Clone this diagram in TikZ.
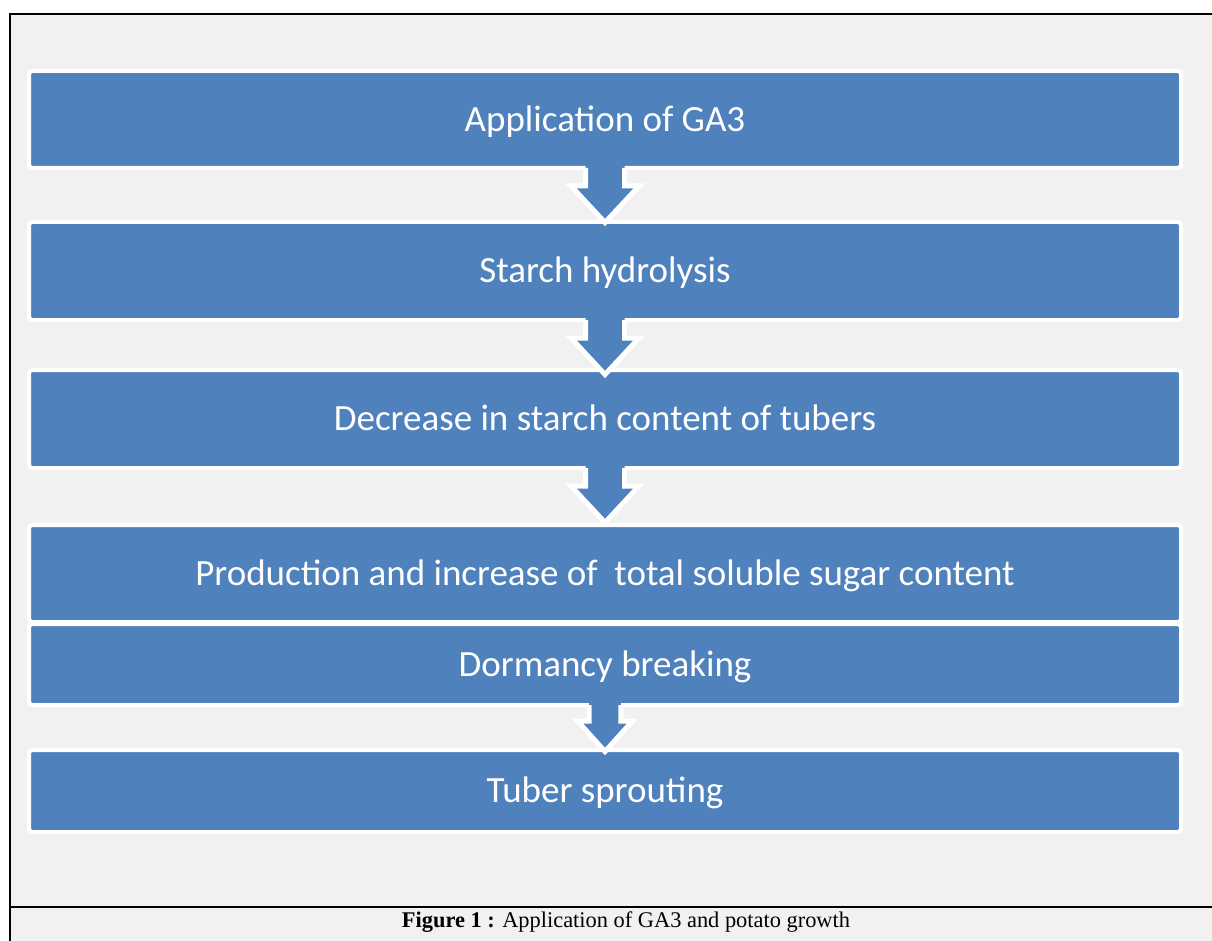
\documentclass[tikz,border=0pt]{standalone}
\usepackage{fontspec}
\setmainfont{Liberation Serif}
\newfontfamily\carlito{Carlito}
\definecolor{boxblue}{HTML}{4F81BD}
\definecolor{pagegray}{HTML}{F1F1F1}
\tikzset{
  flowbox/.style={rectangle, rounded corners=2.5pt, fill=boxblue, draw=white, line width=3pt,
    minimum width=864pt, inner sep=0pt, text=white, font=\carlito\fontsize{27.75pt}{30pt}\selectfont,
    text height=17.9pt, text depth=0pt},
  framerule/.style={line width=1.5pt, black},
  arrowfill/.style={fill=boxblue},
  arrowedge/.style={draw=white, line width=3.75pt, line join=miter},
  bigdown/.pic={
    \fill[arrowfill] (-19.5,-6) -- (-19.5,16) -- (-34,16) -- (0,52.5) -- (34,16) -- (19.5,16) -- (19.5,-6) -- cycle;
    \draw[arrowedge] (-19.5,-2) -- (-19.5,16) -- (-34,16) -- (0,52.5) -- (34,16) -- (19.5,16) -- (19.5,-2);
  },
  smalldown/.pic={
    \fill[arrowfill] (-15.8,-6) -- (-15.8,14.2) -- (-27.3,14.2) -- (0,44.5) -- (27.3,14.2) -- (15.8,14.2) -- (15.8,-6) -- cycle;
    \draw[arrowedge] (-15.8,-2) -- (-15.8,14.2) -- (-27.3,14.2) -- (0,44.5) -- (27.3,14.2) -- (15.8,14.2) -- (15.8,-2);
  }
}
\begin{document}
\begin{tikzpicture}[x=0.75pt, y=-0.75pt]
\useasboundingbox (0,0) rectangle (1212,941);
\fill[white] (0,0) rectangle (1212,941);
\fill[pagegray] (10,13.8) rectangle (1212,941);
\draw[framerule] (1212,13.8) -- (10,13.8) -- (10,941);
\draw[framerule] (10,906.7) -- (1212,906.7);

\node[flowbox, minimum height=72.75pt] (b1) at (605,119.5) {Application of GA3};
\node[flowbox, minimum height=73.5pt]  (b2) at (605,271)   {Starch hydrolysis};
\node[flowbox, minimum height=73.5pt]  (b3) at (605,419)   {Decrease in starch content of tubers};
\node[flowbox, minimum height=72.75pt] (b4) at (605,573.5) {Production and increase of \ total soluble sugar content};
\node[flowbox, minimum height=60.75pt] (b5) at (605,664.5) {Dormancy breaking};
\node[flowbox, minimum height=61.5pt]  (b6) at (605,791)   {Tuber sprouting};

\pic at (b1.south) {bigdown};
\pic at (b2.south) {bigdown};
\pic at (b3.south) {bigdown};
\pic at (b5.south) {smalldown};

\node[font=\fontsize{16.8pt}{18pt}\selectfont, inner sep=0pt] (cap) at (626,922) {\textbf{Figure 1 :} Application of GA3 and potato growth};
\end{tikzpicture}
\end{document}
